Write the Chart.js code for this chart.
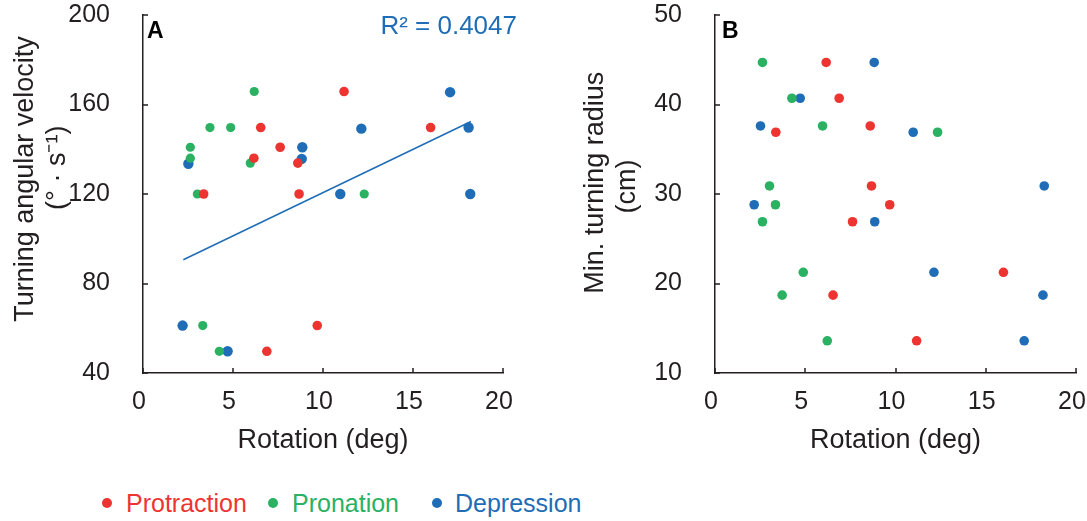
<!DOCTYPE html>
<html lang="en">
<head>
    <meta charset="UTF-8">
    <title>Rotation vs turning performance</title>
    <style>
        body {
            margin: 0;
            width: 1087px;
            height: 521px;
            position: relative;
            background: #fff;
            font-family: 'Liberation Sans', Arial, sans-serif;
            overflow: hidden;
        }
        canvas { position: absolute; top: 0; }
        #chartA { left: 0; }
        #chartB { left: 570px; }
        .panel-label {
            position: absolute;
            font-weight: bold;
            font-size: 23px;
            line-height: 1;
            color: #000;
        }
        .r2 {
            position: absolute;
            right: 570px;
            top: 12px;
            font-size: 26px;
            line-height: 1;
            color: #1e6db6;
        }
        .legend-item {
            position: absolute;
            top: 491px;
            font-size: 25px;
            line-height: 1;
        }
        .dot {
            position: absolute;
            width: 10px;
            height: 10px;
            border-radius: 50%;
            top: 498px;
        }
    </style>
</head>
<body>
    <canvas id="chartA" width="540" height="470"></canvas>
    <canvas id="chartB" width="517" height="470"></canvas>

    <div class="panel-label" style="left:147px; top:19px;">A</div>
    <div class="panel-label" style="left:722px; top:19px;">B</div>
    <div class="r2">R² = 0.4047</div>

    <span class="dot" style="left:102px; background:#ed3431;"></span>
    <span class="legend-item" style="left:126px; color:#ed3431;">Protraction</span>
    <span class="dot" style="left:268px; background:#2ab162;"></span>
    <span class="legend-item" style="left:292px; color:#2ab162;">Pronation</span>
    <span class="dot" style="left:432px; background:#1e6db6;"></span>
    <span class="legend-item" style="left:455px; color:#1e6db6;">Depression</span>

    <script src="https://cdn.jsdelivr.net/npm/chart.js"></script>
    <script>
        // rotation (deg) per point, panel A
        const protractionRotA = [11.17, 6.54, 15.98, 7.62, 6.16, 8.6, 3.37, 8.67, 9.68, 6.88];
        const pronationRotA   = [6.18, 3.72, 4.87, 2.63, 2.63, 5.96, 3.02, 12.29, 3.32, 4.24];
        const depressionRotA  = [17.06, 12.13, 18.09, 8.85, 8.82, 2.52, 10.96, 18.18, 2.2, 4.7];
        // turning angular velocity (deg/s)
        const protractionVel = [165.8, 149.7, 149.7, 140.9, 136, 133.8, 120, 120, 61.2, 49.7];
        const pronationVel   = [165.8, 149.7, 149.7, 140.9, 136, 133.8, 120, 120, 61.2, 49.7];
        const depressionVel  = [165.5, 149.2, 149.7, 140.9, 135.7, 133.5, 120, 120, 61.2, 49.7];

        // rotation (deg) per point, panel B
        const protractionRotB = [6.16, 6.88, 8.6, 3.37, 8.67, 9.68, 7.62, 15.98, 6.54, 11.17];
        const pronationRotB   = [2.63, 4.26, 5.96, 12.33, 3.02, 3.35, 2.63, 4.89, 3.72, 6.22];
        const depressionRotB  = [8.82, 4.72, 2.52, 10.98, 18.24, 2.17, 8.85, 12.13, 18.17, 17.13];
        // min. turning radius (cm)
        const protractionRad = [44.7, 40.7, 37.6, 36.9, 30.9, 28.8, 26.9, 21.25, 18.7, 13.6];
        const pronationRad   = [44.7, 40.7, 37.6, 36.9, 30.9, 28.8, 26.9, 21.25, 18.7, 13.6];
        const depressionRad  = [44.7, 40.7, 37.6, 36.9, 30.9, 28.8, 26.9, 21.25, 18.7, 13.6];

        // linear fit shown in panel A
        const trendX = [2.24, 18.22];
        const trendY = [90.6, 152.4];

        const RED = '#ed3431';
        const GREEN = '#2ab162';
        const BLUE = '#1e6db6';
        const AXIS = '#231f20';
        const FONT = "'Liberation Sans', Arial, sans-serif";

        function points(xs, ys) {
            return xs.map((x, i) => ({ x: x, y: ys[i] }));
        }

        function dots(label, xs, ys, color, r) {
            return {
                type: 'scatter',
                label: label,
                data: points(xs, ys),
                backgroundColor: color,
                borderWidth: 0,
                pointRadius: r,
                pointHoverRadius: r
            };
        }

        // small tick marks pointing into the plot
        const innerTicks = {
            id: 'innerTicks',
            afterDraw(chart) {
                const { ctx, chartArea, scales } = chart;
                ctx.save();
                ctx.strokeStyle = AXIS;
                ctx.lineWidth = 1.5;
                ctx.beginPath();
                scales.x.ticks.forEach(t => {
                    const px = Math.round(scales.x.getPixelForValue(t.value));
                    ctx.moveTo(px, chartArea.bottom);
                    ctx.lineTo(px, chartArea.bottom - 5);
                });
                scales.y.ticks.forEach(t => {
                    const py = Math.round(scales.y.getPixelForValue(t.value));
                    ctx.moveTo(chartArea.left, py);
                    ctx.lineTo(chartArea.left + 5, py);
                });
                ctx.stroke();
                ctx.restore();
            }
        };

        function makeOptions(yMin, yMax, yStep, yTitle, yWidth, yTitlePad, padRight) {
            return {
                responsive: false,
                animation: false,
                layout: { padding: { left: 0, right: padRight, top: 15, bottom: 0 } },
                plugins: { legend: { display: false }, tooltip: { enabled: false } },
                scales: {
                    x: {
                        type: 'linear',
                        min: 0,
                        max: 20,
                        ticks: { stepSize: 5, padding: 6, labelOffset: -4, color: AXIS, font: { family: FONT, size: 25, lineHeight: 1.2 } },
                        grid: { display: false },
                        border: { display: true, color: AXIS, width: 1.5 },
                        title: {
                            display: true,
                            text: 'Rotation (deg)',
                            color: AXIS,
                            font: { family: FONT, size: 27, lineHeight: 1.2 },
                            padding: { top: 0, bottom: 13 }
                        },
                        afterFit(scale) {
                            scale.height = 97;
                            scale.paddingLeft = 0;
                            scale.paddingRight = 0;
                        }
                    },
                    y: {
                        type: 'linear',
                        min: yMin,
                        max: yMax,
                        ticks: { stepSize: yStep, padding: 25, color: AXIS, font: { family: FONT, size: 25 } },
                        grid: { display: false },
                        border: { display: true, color: AXIS, width: 1.5 },
                        title: {
                            display: true,
                            text: yTitle,
                            color: AXIS,
                            font: { family: FONT, size: 27, lineHeight: 1.2 },
                            padding: { top: yTitlePad, bottom: 0 }
                        },
                        afterFit(scale) {
                            scale.width = yWidth;
                            scale.paddingTop = 0;
                            scale.paddingBottom = 0;
                        }
                    }
                }
            };
        }

        // leading spaces nudge the rotated titles up, as in the original figure
        new Chart(document.getElementById('chartA'), {
            type: 'scatter',
            data: {
                datasets: [
                    {
                        type: 'line',
                        label: 'Fit',
                        data: points(trendX, trendY),
                        borderColor: BLUE,
                        borderWidth: 1.5,
                        pointRadius: 0,
                        fill: false
                    },
                    dots('Protraction', protractionRotA, protractionVel, RED, 4.8),
                    dots('Pronation', pronationRotA, pronationVel, GREEN, 4.6),
                    dots('Depression', depressionRotA, depressionVel, BLUE, 5.2)
                ]
            },
            options: makeOptions(40, 200, 40, ['    Turning angular velocity', '       (° · s⁻¹)'], 143, 9, 37),
            plugins: [innerTicks]
        });

        new Chart(document.getElementById('chartB'), {
            type: 'scatter',
            data: {
                datasets: [
                    dots('Protraction', protractionRotB, protractionRad, RED, 4.8),
                    dots('Pronation', pronationRotB, pronationRad, GREEN, 4.8),
                    dots('Depression', depressionRotB, depressionRad, BLUE, 4.8)
                ]
            },
            options: makeOptions(10, 50, 10, ['   Min. turning radius', '  (cm)'], 145, 9, 11),
            plugins: [innerTicks]
        });
    </script>
</body>
</html>
